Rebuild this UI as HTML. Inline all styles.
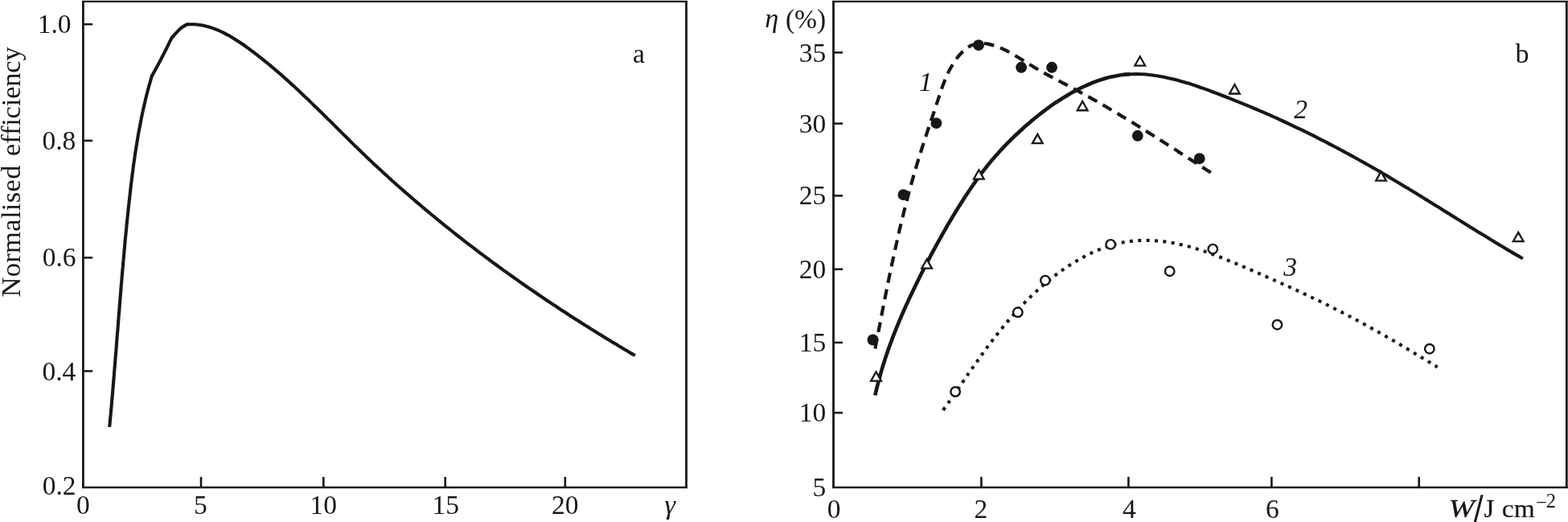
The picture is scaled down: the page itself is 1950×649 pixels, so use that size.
<!DOCTYPE html>
<html lang="en"><head><meta charset="utf-8"><title>Normalised efficiency plots</title>
<style>
html,body{margin:0;padding:0;background:#fff;}
body{width:1950px;height:649px;}
svg{display:block;}
text{font-family:"Liberation Serif","DejaVu Serif",serif;font-size:33.5px;fill:#171717;}
.i{font-style:italic;}
.ax{stroke:#171717;fill:none;}
.cv{stroke:#171717;fill:none;stroke-linejoin:round;stroke-linecap:butt;}
</style></head><body>
<svg width="1950" height="649" viewBox="0 0 1950 649">
<rect x="0" y="0" width="1950" height="649" fill="#ffffff"/>
<g id="plot-a">
<line class="ax" x1="102.0" y1="1.9" x2="854.9" y2="1.9" stroke-width="2.3"/>
<line class="ax" x1="102.0" y1="605.9" x2="854.9" y2="605.9" stroke-width="2.5"/>
<line class="ax" x1="103.4" y1="0.9" x2="103.4" y2="606.9" stroke-width="2.8"/>
<line class="ax" x1="853.5" y1="0.9" x2="853.5" y2="606.9" stroke-width="2.8"/>
<line class="ax" x1="103.4" y1="30.2" x2="115.2" y2="30.2" stroke-width="2.5"/>
<line class="ax" x1="103.4" y1="174.9" x2="115.2" y2="174.9" stroke-width="2.5"/>
<line class="ax" x1="103.4" y1="320.4" x2="115.2" y2="320.4" stroke-width="2.5"/>
<line class="ax" x1="103.4" y1="461.4" x2="115.2" y2="461.4" stroke-width="2.5"/>
<line class="ax" x1="250.0" y1="605.9" x2="250.0" y2="593.0" stroke-width="2.6"/>
<line class="ax" x1="402.3" y1="605.9" x2="402.3" y2="593.0" stroke-width="2.6"/>
<line class="ax" x1="553.7" y1="605.9" x2="553.7" y2="593.0" stroke-width="2.6"/>
<line class="ax" x1="702.8" y1="605.9" x2="702.8" y2="593.0" stroke-width="2.6"/>
<text x="88.6" y="41.0" text-anchor="end">1.0</text>
<text x="94.3" y="186.2" text-anchor="end">0.8</text>
<text x="94.6" y="331.2" text-anchor="end">0.6</text>
<text x="94.3" y="472.6" text-anchor="end">0.4</text>
<text x="94.6" y="615.2" text-anchor="end">0.2</text>
<text x="103.4" y="639.2" text-anchor="middle">0</text>
<text x="249.3" y="639.2" text-anchor="middle">5</text>
<text x="402.3" y="639.2" text-anchor="middle">10</text>
<text x="554.2" y="639.2" text-anchor="middle">15</text>
<text x="702.8" y="639.2" text-anchor="middle">20</text>
<text class="i" x="833.2" y="639.4" text-anchor="middle" style="font-size:34.3px">γ</text>
<text x="794.4" y="77.7" text-anchor="middle">a</text>
<text transform="translate(24.8 369.6) rotate(-90)" style="font-size:34.5px"><tspan x="0" textLength="164" lengthAdjust="spacing">Normalised</tspan> <tspan x="175.7" textLength="135.6" lengthAdjust="spacing">efficiency</tspan></text>
<path class="cv" stroke-width="4.1" d="M136.2,530.8 C136.3,529.5 136.7,525.5 136.9,522.9 C137.2,520.2 137.4,517.6 137.7,514.9 C137.9,512.3 138.1,509.6 138.4,507.0 C138.6,504.3 138.9,501.7 139.1,499.0 C139.3,496.4 139.6,493.7 139.8,491.1 C140.0,488.4 140.2,485.8 140.5,483.1 C140.7,480.4 140.9,477.8 141.1,475.1 C141.3,472.5 141.6,469.8 141.8,467.2 C142.0,464.5 142.2,461.9 142.4,459.2 C142.7,456.5 142.9,453.9 143.1,451.2 C143.3,448.6 143.5,445.9 143.7,443.2 C143.9,440.6 144.2,437.9 144.4,435.2 C144.6,432.6 144.8,429.9 145.0,427.3 C145.2,424.6 145.4,421.9 145.6,419.3 C145.8,416.6 146.0,413.9 146.3,411.3 C146.5,408.6 146.7,406.0 146.9,403.3 C147.1,400.6 147.3,398.0 147.5,395.3 C147.7,392.6 147.9,390.0 148.2,387.3 C148.4,384.6 148.6,382.0 148.8,379.3 C149.0,376.6 149.2,374.0 149.4,371.3 C149.7,368.7 149.9,366.0 150.1,363.3 C150.3,360.7 150.5,358.0 150.7,355.3 C151.0,352.7 151.2,350.0 151.4,347.3 C151.6,344.7 151.9,342.0 152.1,339.4 C152.3,336.7 152.5,334.0 152.8,331.4 C153.0,328.7 153.2,326.0 153.5,323.4 C153.7,320.7 153.9,318.1 154.2,315.4 C154.4,312.7 154.7,310.1 154.9,307.4 C155.1,304.8 155.4,302.1 155.6,299.5 C155.9,296.8 156.1,294.1 156.4,291.5 C156.7,288.8 156.9,286.2 157.2,283.5 C157.4,280.9 157.7,278.2 158.0,275.6 C158.2,272.9 158.5,270.3 158.8,267.6 C159.1,264.9 159.3,262.3 159.6,259.6 C159.9,257.0 160.2,254.4 160.5,251.7 C160.8,249.1 161.1,246.4 161.4,243.8 C161.7,241.1 162.0,238.5 162.3,235.8 C162.6,233.2 162.9,230.5 163.2,227.9 C163.5,225.3 163.8,222.6 164.2,220.0 C164.5,217.4 164.8,214.7 165.2,212.1 C165.5,209.4 165.9,206.8 166.2,204.2 C166.6,201.5 167.0,198.9 167.4,196.3 C167.7,193.7 168.1,191.0 168.5,188.4 C168.9,185.8 169.3,183.1 169.8,180.5 C170.2,177.9 170.6,175.3 171.1,172.7 C171.5,170.0 171.9,167.4 172.4,164.8 C172.9,162.2 173.4,159.6 173.9,157.0 C174.4,154.3 174.9,151.7 175.4,149.1 C175.9,146.5 176.4,143.9 177.0,141.3 C177.6,138.7 178.1,136.1 178.7,133.5 C179.3,130.9 179.9,128.3 180.5,125.7 C181.1,123.1 181.8,120.5 182.4,117.9 C183.1,115.3 183.7,112.7 184.4,110.1 C185.1,107.5 185.8,104.9 186.6,102.3 C187.3,99.8 188.4,95.9 188.8,94.6 C189.4,93.5 191.3,90.1 192.5,87.9 C193.8,85.6 195.0,83.4 196.2,81.2 C197.4,78.9 198.6,76.6 199.8,74.4 C201.0,72.1 202.1,69.9 203.3,67.6 C204.5,65.3 205.6,63.0 206.8,60.8 C208.0,58.5 209.1,56.2 210.2,53.9 C211.4,51.6 213.0,48.1 213.6,47.0 C214.6,46.0 217.3,42.8 219.3,40.7 C221.3,38.7 223.2,36.5 225.4,34.7 C227.6,33.0 231.4,31.0 232.6,30.3 C233.9,30.3 238.0,30.1 240.6,30.2 C243.2,30.3 245.8,30.6 248.4,31.0 C251.0,31.3 253.5,31.8 256.0,32.5 C258.5,33.1 261.0,33.8 263.4,34.6 C265.9,35.4 268.3,36.3 270.7,37.3 C273.1,38.3 275.5,39.4 277.8,40.6 C280.2,41.8 282.5,43.0 284.8,44.3 C287.1,45.6 289.4,47.0 291.6,48.4 C293.9,49.8 296.1,51.2 298.4,52.7 C300.6,54.2 302.8,55.8 305.0,57.3 C307.2,58.9 309.3,60.5 311.5,62.1 C313.7,63.7 315.8,65.3 317.9,66.9 C320.1,68.5 322.2,70.2 324.3,71.8 C326.4,73.5 328.5,75.2 330.5,76.9 C332.6,78.5 334.7,80.2 336.7,81.9 C338.7,83.6 340.8,85.4 342.8,87.1 C344.8,88.8 346.8,90.5 348.9,92.3 C350.9,94.0 352.8,95.8 354.8,97.6 C356.8,99.3 358.8,101.1 360.8,102.9 C362.7,104.7 364.7,106.5 366.6,108.3 C368.6,110.1 370.5,111.9 372.5,113.7 C374.4,115.5 376.3,117.3 378.2,119.2 C380.2,121.0 382.1,122.8 384.0,124.6 C385.9,126.5 387.8,128.3 389.7,130.2 C391.6,132.0 393.5,133.9 395.4,135.7 C397.3,137.6 399.2,139.4 401.1,141.3 C403.0,143.1 404.8,145.0 406.7,146.9 C408.6,148.7 410.5,150.6 412.4,152.4 C414.2,154.3 416.1,156.2 418.0,158.0 C419.9,159.9 421.8,161.8 423.6,163.6 C425.5,165.5 427.4,167.4 429.3,169.2 C431.2,171.1 433.1,172.9 434.9,174.8 C436.8,176.7 438.7,178.5 440.6,180.4 C442.5,182.2 444.4,184.1 446.3,185.9 C448.2,187.8 450.1,189.6 452.0,191.4 C453.9,193.3 455.8,195.1 457.8,196.9 C459.7,198.7 461.6,200.6 463.5,202.4 C465.5,204.2 467.4,206.0 469.3,207.8 C471.3,209.6 473.2,211.4 475.2,213.2 C477.1,215.0 479.1,216.8 481.0,218.5 C483.0,220.3 484.9,222.1 486.9,223.9 C488.9,225.7 490.9,227.4 492.8,229.2 C494.8,230.9 496.8,232.7 498.8,234.5 C500.8,236.2 502.8,238.0 504.8,239.7 C506.8,241.4 508.8,243.2 510.8,244.9 C512.8,246.6 514.8,248.4 516.8,250.1 C518.8,251.8 520.8,253.5 522.9,255.2 C524.9,257.0 526.9,258.7 528.9,260.4 C531.0,262.1 533.0,263.8 535.1,265.5 C537.1,267.2 539.1,268.8 541.2,270.5 C543.2,272.2 545.3,273.9 547.4,275.6 C549.4,277.2 551.5,278.9 553.5,280.6 C555.6,282.2 557.7,283.9 559.7,285.5 C561.8,287.2 563.9,288.8 566.0,290.5 C568.1,292.1 570.2,293.8 572.2,295.4 C574.3,297.0 576.4,298.7 578.5,300.3 C580.6,301.9 582.7,303.5 584.8,305.2 C586.9,306.8 589.0,308.4 591.2,310.0 C593.3,311.6 595.4,313.2 597.5,314.8 C599.6,316.4 601.8,318.0 603.9,319.6 C606.0,321.1 608.1,322.7 610.3,324.3 C612.4,325.9 614.6,327.5 616.7,329.0 C618.8,330.6 621.0,332.2 623.1,333.7 C625.3,335.3 627.4,336.8 629.6,338.4 C631.7,339.9 633.9,341.5 636.1,343.0 C638.2,344.5 640.4,346.1 642.6,347.6 C644.7,349.1 646.9,350.7 649.1,352.2 C651.3,353.7 653.4,355.2 655.6,356.7 C657.8,358.3 660.0,359.8 662.2,361.3 C664.4,362.8 666.6,364.3 668.8,365.8 C670.9,367.3 673.1,368.7 675.3,370.2 C677.5,371.7 679.7,373.2 682.0,374.7 C684.2,376.1 686.4,377.6 688.6,379.1 C690.8,380.5 693.0,382.0 695.2,383.5 C697.4,384.9 699.7,386.4 701.9,387.8 C704.1,389.3 706.3,390.7 708.6,392.2 C710.8,393.6 713.0,395.0 715.2,396.5 C717.5,397.9 719.7,399.3 722.0,400.7 C724.2,402.2 726.4,403.6 728.7,405.0 C730.9,406.4 733.2,407.8 735.4,409.2 C737.7,410.6 739.9,412.0 742.2,413.4 C744.4,414.8 746.7,416.2 748.9,417.6 C751.2,419.0 753.4,420.4 755.7,421.7 C758.0,423.1 760.2,424.5 762.5,425.9 C764.8,427.2 767.0,428.6 769.3,430.0 C771.6,431.3 773.8,432.7 776.1,434.0 C778.4,435.4 780.7,436.7 782.9,438.1 C785.2,439.4 788.7,441.4 789.8,442.1"/>
</g>
<g id="plot-b">
<line class="ax" x1="1035.1" y1="1.9" x2="1949.7" y2="1.9" stroke-width="2.3"/>
<line class="ax" x1="1035.1" y1="605.9" x2="1949.7" y2="605.9" stroke-width="2.5"/>
<line class="ax" x1="1036.5" y1="0.9" x2="1036.5" y2="606.9" stroke-width="2.8"/>
<line class="ax" x1="1948.3" y1="0.9" x2="1948.3" y2="606.9" stroke-width="2.8"/>
<line class="ax" x1="1036.5" y1="65.3" x2="1048.1" y2="65.3" stroke-width="2.5"/>
<line class="ax" x1="1036.5" y1="153.6" x2="1048.1" y2="153.6" stroke-width="2.5"/>
<line class="ax" x1="1036.5" y1="243.3" x2="1048.1" y2="243.3" stroke-width="2.5"/>
<line class="ax" x1="1036.5" y1="334.7" x2="1048.1" y2="334.7" stroke-width="2.5"/>
<line class="ax" x1="1036.5" y1="425.9" x2="1048.1" y2="425.9" stroke-width="2.5"/>
<line class="ax" x1="1036.5" y1="513.2" x2="1048.1" y2="513.2" stroke-width="2.5"/>
<line class="ax" x1="1220.4" y1="605.9" x2="1220.4" y2="592.9" stroke-width="2.6"/>
<line class="ax" x1="1403.4" y1="605.9" x2="1403.4" y2="592.9" stroke-width="2.6"/>
<line class="ax" x1="1581.4" y1="605.9" x2="1581.4" y2="592.9" stroke-width="2.6"/>
<line class="ax" x1="1764.7" y1="605.9" x2="1764.7" y2="592.9" stroke-width="2.6"/>
<text x="1027.3" y="77.0" text-anchor="end">35</text>
<text x="1027.3" y="164.6" text-anchor="end">30</text>
<text x="1027.3" y="254.4" text-anchor="end">25</text>
<text x="1027.3" y="345.8" text-anchor="end">20</text>
<text x="1027.3" y="437.0" text-anchor="end">15</text>
<text x="1027.3" y="524.3" text-anchor="end">10</text>
<text x="1027.3" y="616.8" text-anchor="end">5</text>
<text x="1037.0" y="644.0" text-anchor="middle">0</text>
<text x="1219.8" y="644.0" text-anchor="middle">2</text>
<text x="1404.3" y="644.0" text-anchor="middle">4</text>
<text x="1582.4" y="644.0" text-anchor="middle">6</text>
<text><tspan class="i" x="951.3" y="34.3" style="font-size:34.3px">η</tspan> <tspan x="1027.2" y="34.7" text-anchor="end">(%)</tspan></text>
<text style="font-size:32.5px"><tspan class="i" x="1801.6" y="643.2" textLength="32.2" lengthAdjust="spacingAndGlyphs" stroke="#171717" stroke-width="0.3">W</tspan><tspan x="1832.2" y="651.5" style="font-size:54px" textLength="11.71" lengthAdjust="spacingAndGlyphs" stroke="#171717" stroke-width="1.3">/</tspan><tspan x="1845.4" y="643.3" stroke="#171717" stroke-width="0.3">J </tspan><tspan x="1867.8" y="643.3" textLength="40.9" lengthAdjust="spacingAndGlyphs" stroke="#171717" stroke-width="0.2">cm</tspan><tspan x="1910.2" y="633.4" style="font-size:24.5px">−</tspan><tspan dx="-1.2" dy="-2.3" style="font-size:24.5px">2</tspan></text>
<text x="1893.1" y="77.8" text-anchor="middle" style="font-size:34.2px">b</text>
<text class="i" x="1151" y="112.6" text-anchor="middle">1</text>
<text class="i" x="1617.5" y="147.4" text-anchor="middle">2</text>
<text class="i" x="1604.5" y="343.3" text-anchor="middle">3</text>
<path class="cv" stroke-width="4.2" stroke-dasharray="12.6 8.25" d="M1505.8,214.6 C1504.7,213.9 1501.3,211.7 1499.1,210.3 C1496.9,208.8 1494.6,207.4 1492.4,206.0 C1490.2,204.5 1487.9,203.1 1485.7,201.6 C1483.5,200.2 1481.2,198.7 1479.0,197.3 C1476.8,195.8 1474.5,194.4 1472.3,192.9 C1470.0,191.5 1467.8,190.0 1465.5,188.6 C1463.3,187.1 1461.1,185.7 1458.8,184.2 C1456.6,182.8 1454.3,181.3 1452.1,179.9 C1449.8,178.5 1447.6,177.0 1445.3,175.6 C1443.1,174.2 1440.8,172.7 1438.6,171.3 C1436.3,169.9 1434.1,168.4 1431.8,167.0 C1429.5,165.6 1427.3,164.2 1425.0,162.7 C1422.8,161.3 1420.5,159.9 1418.2,158.5 C1416.0,157.1 1413.7,155.7 1411.4,154.3 C1409.2,152.9 1406.9,151.5 1404.6,150.1 C1402.4,148.7 1400.1,147.4 1397.8,146.0 C1395.5,144.6 1393.2,143.2 1391.0,141.9 C1388.7,140.5 1386.4,139.2 1384.1,137.8 C1381.8,136.5 1379.5,135.1 1377.3,133.8 C1375.0,132.4 1372.7,131.1 1370.4,129.8 C1368.1,128.5 1365.8,127.1 1363.5,125.8 C1361.2,124.5 1358.9,123.2 1356.6,121.9 C1354.3,120.6 1351.9,119.3 1349.6,118.1 C1347.3,116.8 1345.0,115.5 1342.7,114.3 C1340.4,113.0 1338.0,111.7 1335.7,110.5 C1333.4,109.3 1331.1,108.0 1328.7,106.8 C1326.4,105.6 1324.0,104.3 1321.7,103.1 C1319.4,101.9 1317.0,100.6 1314.7,99.4 C1312.3,98.2 1310.0,96.9 1307.6,95.6 C1305.3,94.4 1302.9,93.1 1300.5,91.8 C1298.2,90.5 1295.8,89.2 1293.4,87.8 C1291.1,86.5 1288.7,85.1 1286.3,83.7 C1284.0,82.2 1281.6,80.8 1279.2,79.3 C1276.8,77.9 1274.4,76.3 1272.0,74.9 C1269.6,73.4 1267.2,71.9 1264.8,70.5 C1262.4,69.0 1260.0,67.6 1257.6,66.3 C1255.2,64.9 1252.8,63.6 1250.4,62.4 C1248.0,61.2 1245.6,60.1 1243.2,59.1 C1240.7,58.1 1238.3,57.2 1235.9,56.5 C1233.5,55.7 1231.0,55.1 1228.6,54.6 C1226.2,54.2 1223.7,53.9 1221.4,53.9 C1219.0,53.8 1216.6,54.0 1214.3,54.5 C1212.0,54.9 1209.7,55.7 1207.5,56.7 C1205.4,57.8 1203.3,59.1 1201.2,60.7 C1199.2,62.2 1197.3,64.1 1195.4,66.0 C1193.6,67.9 1191.8,70.1 1190.1,72.3 C1188.4,74.5 1186.8,76.9 1185.3,79.3 C1183.8,81.7 1182.4,84.2 1181.1,86.6 C1179.8,89.1 1178.6,91.6 1177.5,94.0 C1176.4,96.5 1175.4,99.0 1174.4,101.5 C1173.4,104.0 1172.5,106.4 1171.6,108.9 C1170.7,111.4 1169.9,113.9 1169.1,116.4 C1168.2,118.9 1167.4,121.4 1166.6,123.9 C1165.8,126.4 1164.9,128.9 1164.1,131.4 C1163.3,133.9 1162.4,136.4 1161.6,139.0 C1160.7,141.5 1159.9,144.0 1159.1,146.5 C1158.2,149.0 1157.4,151.6 1156.5,154.1 C1155.7,156.6 1154.8,159.1 1154.0,161.7 C1153.2,164.2 1152.3,166.7 1151.5,169.3 C1150.6,171.8 1149.8,174.4 1149.0,176.9 C1148.2,179.4 1147.3,182.0 1146.5,184.5 C1145.7,187.1 1144.9,189.6 1144.1,192.2 C1143.3,194.7 1142.5,197.3 1141.7,199.9 C1140.9,202.4 1140.2,205.0 1139.4,207.5 C1138.6,210.1 1137.9,212.6 1137.1,215.2 C1136.4,217.8 1135.6,220.3 1134.9,222.9 C1134.2,225.5 1133.5,228.0 1132.8,230.6 C1132.0,233.2 1131.3,235.8 1130.6,238.3 C1130.0,240.9 1129.3,243.5 1128.6,246.1 C1127.9,248.6 1127.2,251.2 1126.6,253.8 C1125.9,256.4 1125.3,259.0 1124.6,261.5 C1124.0,264.1 1123.3,266.7 1122.7,269.3 C1122.0,271.9 1121.4,274.5 1120.8,277.1 C1120.2,279.6 1119.6,282.2 1118.9,284.8 C1118.3,287.4 1117.7,290.0 1117.1,292.6 C1116.5,295.2 1115.9,297.8 1115.4,300.4 C1114.8,303.0 1114.2,305.6 1113.6,308.2 C1113.0,310.8 1112.5,313.4 1111.9,316.0 C1111.3,318.6 1110.8,321.2 1110.2,323.8 C1109.6,326.4 1109.1,329.0 1108.5,331.6 C1108.0,334.2 1107.4,336.8 1106.9,339.4 C1106.4,342.0 1105.8,344.6 1105.3,347.3 C1104.8,349.9 1104.2,352.5 1103.7,355.1 C1103.2,357.7 1102.6,360.3 1102.1,362.9 C1101.6,365.5 1101.1,368.1 1100.5,370.8 C1100.0,373.4 1099.5,376.0 1099.0,378.6 C1098.5,381.2 1098.0,383.8 1097.4,386.4 C1096.9,389.1 1096.4,391.7 1095.9,394.3 C1095.4,396.9 1094.9,399.5 1094.4,402.2 C1093.9,404.8 1093.4,407.4 1092.9,410.0 C1092.4,412.6 1091.9,415.3 1091.3,417.9 C1090.8,420.5 1090.3,423.1 1089.8,425.7 C1089.3,428.4 1088.6,432.3 1088.3,433.6"/>
<path class="cv" stroke-width="4.6" d="M1088.3,491.6 C1088.6,490.3 1089.5,486.3 1090.1,483.7 C1090.8,481.1 1091.4,478.5 1092.1,475.9 C1092.8,473.3 1093.5,470.7 1094.2,468.1 C1094.9,465.6 1095.6,463.0 1096.4,460.4 C1097.1,457.9 1097.9,455.3 1098.7,452.8 C1099.5,450.2 1100.3,447.7 1101.1,445.1 C1102.0,442.6 1102.8,440.1 1103.7,437.6 C1104.6,435.1 1105.4,432.6 1106.3,430.1 C1107.2,427.6 1108.2,425.1 1109.1,422.6 C1110.0,420.1 1111.0,417.6 1111.9,415.1 C1112.9,412.7 1113.9,410.2 1114.9,407.7 C1115.9,405.3 1116.9,402.8 1117.9,400.3 C1118.9,397.9 1120.0,395.4 1121.0,393.0 C1122.1,390.6 1123.2,388.1 1124.2,385.7 C1125.3,383.3 1126.4,380.8 1127.5,378.4 C1128.6,376.0 1129.7,373.6 1130.8,371.1 C1132.0,368.7 1133.1,366.3 1134.3,363.9 C1135.4,361.5 1136.6,359.1 1137.7,356.7 C1138.9,354.3 1140.1,351.9 1141.3,349.5 C1142.4,347.1 1143.6,344.7 1144.8,342.3 C1146.0,339.9 1147.2,337.5 1148.5,335.1 C1149.7,332.8 1150.9,330.4 1152.1,328.0 C1153.4,325.6 1154.6,323.2 1155.9,320.8 C1157.1,318.5 1158.4,316.1 1159.7,313.7 C1160.9,311.4 1162.2,309.0 1163.5,306.6 C1164.8,304.3 1166.1,301.9 1167.4,299.6 C1168.7,297.2 1170.0,294.9 1171.3,292.6 C1172.6,290.2 1173.9,287.9 1175.3,285.6 C1176.6,283.2 1178.0,280.9 1179.3,278.6 C1180.7,276.3 1182.0,274.0 1183.4,271.7 C1184.8,269.4 1186.2,267.1 1187.5,264.9 C1188.9,262.6 1190.3,260.3 1191.7,258.1 C1193.2,255.8 1194.6,253.6 1196.0,251.3 C1197.4,249.1 1198.9,246.8 1200.3,244.6 C1201.7,242.4 1203.2,240.2 1204.7,238.0 C1206.1,235.8 1207.6,233.6 1209.1,231.5 C1210.6,229.3 1212.1,227.1 1213.7,225.0 C1215.2,222.8 1216.8,220.7 1218.3,218.6 C1219.9,216.4 1221.5,214.3 1223.1,212.2 C1224.7,210.1 1226.4,208.1 1228.0,206.0 C1229.7,203.9 1231.4,201.9 1233.1,199.8 C1234.8,197.8 1236.6,195.8 1238.3,193.8 C1240.1,191.8 1241.9,189.8 1243.7,187.8 C1245.5,185.8 1247.3,183.9 1249.2,181.9 C1251.0,180.0 1252.9,178.1 1254.8,176.2 C1256.7,174.3 1258.6,172.4 1260.5,170.5 C1262.5,168.6 1264.4,166.8 1266.4,165.0 C1268.3,163.1 1270.3,161.3 1272.3,159.5 C1274.3,157.7 1276.3,156.0 1278.3,154.2 C1280.3,152.5 1282.4,150.8 1284.4,149.1 C1286.5,147.4 1288.5,145.7 1290.6,144.0 C1292.7,142.4 1294.8,140.7 1296.9,139.1 C1299.0,137.5 1301.2,135.9 1303.3,134.4 C1305.5,132.8 1307.6,131.2 1309.8,129.7 C1312.0,128.2 1314.2,126.7 1316.5,125.3 C1318.7,123.8 1321.0,122.4 1323.3,121.0 C1325.6,119.6 1327.9,118.2 1330.2,116.8 C1332.6,115.5 1334.9,114.2 1337.3,112.9 C1339.7,111.7 1342.1,110.4 1344.5,109.2 C1346.9,108.1 1349.4,106.9 1351.8,105.8 C1354.3,104.7 1356.8,103.7 1359.2,102.7 C1361.7,101.7 1364.2,100.8 1366.8,99.9 C1369.3,99.1 1371.8,98.3 1374.4,97.5 C1376.9,96.8 1379.5,96.1 1382.0,95.5 C1384.6,94.9 1387.2,94.4 1389.8,93.9 C1392.3,93.5 1394.9,93.1 1397.5,92.8 C1400.2,92.5 1404.1,92.3 1405.4,92.2"/>
<path class="cv" stroke-width="4.15" d="M1397.5,92.8 C1398.9,92.7 1402.8,92.3 1405.4,92.2 C1408.0,92.1 1410.6,92.0 1413.2,92.0 C1415.9,92.1 1418.5,92.2 1421.1,92.3 C1423.8,92.5 1426.4,92.7 1429.0,93.0 C1431.7,93.3 1434.3,93.6 1436.9,94.0 C1439.6,94.4 1442.2,94.9 1444.8,95.3 C1447.5,95.8 1450.1,96.4 1452.7,97.0 C1455.3,97.5 1458.0,98.2 1460.6,98.8 C1463.2,99.5 1465.8,100.2 1468.4,100.9 C1471.0,101.6 1473.6,102.4 1476.2,103.1 C1478.8,103.9 1481.3,104.7 1483.9,105.6 C1486.5,106.4 1489.1,107.3 1491.6,108.2 C1494.2,109.0 1496.7,110.0 1499.3,110.9 C1501.8,111.8 1504.3,112.7 1506.8,113.7 C1509.4,114.6 1511.9,115.6 1514.4,116.5 C1516.9,117.5 1519.4,118.5 1521.9,119.5 C1524.4,120.5 1526.9,121.4 1529.4,122.4 C1531.9,123.4 1534.4,124.4 1536.8,125.4 C1539.3,126.4 1541.8,127.4 1544.3,128.4 C1546.7,129.4 1549.2,130.4 1551.6,131.4 C1554.1,132.4 1556.6,133.4 1559.0,134.5 C1561.5,135.5 1563.9,136.5 1566.3,137.6 C1568.8,138.6 1571.2,139.7 1573.6,140.7 C1576.1,141.8 1578.5,142.9 1580.9,143.9 C1583.4,145.0 1585.8,146.1 1588.2,147.2 C1590.6,148.3 1593.0,149.4 1595.4,150.5 C1597.8,151.6 1600.2,152.7 1602.6,153.9 C1605.0,155.0 1607.4,156.1 1609.8,157.3 C1612.2,158.4 1614.6,159.5 1617.0,160.7 C1619.4,161.9 1621.8,163.0 1624.2,164.2 C1626.6,165.4 1628.9,166.5 1631.3,167.7 C1633.7,168.9 1636.1,170.1 1638.4,171.3 C1640.8,172.5 1643.2,173.7 1645.5,174.9 C1647.9,176.1 1650.3,177.4 1652.6,178.6 C1655.0,179.8 1657.3,181.0 1659.7,182.3 C1662.0,183.5 1664.4,184.8 1666.7,186.0 C1669.1,187.3 1671.4,188.5 1673.8,189.8 C1676.1,191.1 1678.4,192.3 1680.8,193.6 C1683.1,194.9 1685.5,196.2 1687.8,197.5 C1690.1,198.8 1692.4,200.1 1694.8,201.4 C1697.1,202.7 1699.4,204.0 1701.7,205.3 C1704.1,206.6 1706.4,208.0 1708.7,209.3 C1711.0,210.6 1713.3,211.9 1715.7,213.3 C1718.0,214.6 1720.3,216.0 1722.6,217.3 C1724.9,218.7 1727.2,220.0 1729.5,221.4 C1731.8,222.8 1734.1,224.1 1736.4,225.5 C1738.7,226.9 1741.0,228.3 1743.4,229.7 C1745.7,231.0 1747.9,232.4 1750.2,233.8 C1752.5,235.2 1754.8,236.6 1757.1,238.0 C1759.4,239.4 1761.7,240.8 1764.0,242.2 C1766.3,243.6 1768.6,245.0 1770.9,246.4 C1773.2,247.9 1775.5,249.3 1777.7,250.7 C1780.0,252.1 1782.3,253.5 1784.6,254.9 C1786.9,256.3 1789.2,257.8 1791.5,259.2 C1793.7,260.6 1796.0,262.0 1798.3,263.4 C1800.6,264.9 1802.9,266.3 1805.1,267.7 C1807.4,269.1 1809.7,270.5 1812.0,272.0 C1814.3,273.4 1816.5,274.8 1818.8,276.2 C1821.1,277.6 1823.4,279.0 1825.6,280.5 C1827.9,281.9 1830.2,283.3 1832.5,284.7 C1834.7,286.1 1837.0,287.5 1839.3,288.9 C1841.6,290.3 1843.8,291.7 1846.1,293.1 C1848.4,294.5 1850.7,295.9 1852.9,297.3 C1855.2,298.6 1857.5,300.0 1859.8,301.4 C1862.0,302.8 1864.3,304.1 1866.6,305.5 C1868.9,306.9 1871.1,308.2 1873.4,309.6 C1875.7,310.9 1878.0,312.3 1880.2,313.6 C1882.5,315.0 1884.8,316.3 1887.1,317.6 C1889.3,319.0 1892.8,320.9 1893.9,321.6"/>
<path class="cv" stroke-width="4.05" stroke-dasharray="4.05 6.33" stroke-dashoffset="-0.8" d="M1172.5,510.5 C1173.3,509.4 1175.6,506.2 1177.1,504.0 C1178.7,501.8 1180.2,499.7 1181.7,497.5 C1183.2,495.3 1184.7,493.1 1186.3,490.9 C1187.8,488.8 1189.3,486.6 1190.8,484.4 C1192.3,482.2 1193.8,480.0 1195.3,477.8 C1196.8,475.7 1198.3,473.5 1199.8,471.3 C1201.3,469.1 1202.8,466.9 1204.3,464.7 C1205.9,462.6 1207.4,460.4 1208.9,458.2 C1210.4,456.0 1211.9,453.9 1213.5,451.7 C1215.0,449.5 1216.5,447.4 1218.1,445.2 C1219.6,443.1 1221.1,440.9 1222.7,438.8 C1224.3,436.6 1225.8,434.5 1227.4,432.3 C1229.0,430.2 1230.6,428.1 1232.1,426.0 C1233.7,423.9 1235.4,421.7 1237.0,419.6 C1238.6,417.6 1240.2,415.5 1241.9,413.4 C1243.5,411.3 1245.2,409.2 1246.9,407.2 C1248.5,405.1 1250.2,403.1 1251.9,401.0 C1253.7,399.0 1255.4,397.0 1257.1,395.0 C1258.9,393.0 1260.6,391.0 1262.4,389.0 C1264.2,387.0 1266.0,385.1 1267.8,383.1 C1269.6,381.2 1271.4,379.2 1273.3,377.3 C1275.1,375.4 1277.0,373.5 1278.9,371.6 C1280.8,369.7 1282.7,367.9 1284.7,366.0 C1286.6,364.2 1288.6,362.4 1290.5,360.6 C1292.5,358.8 1294.5,357.0 1296.6,355.2 C1298.6,353.4 1300.7,351.7 1302.7,350.0 C1304.8,348.3 1306.9,346.6 1309.1,344.9 C1311.2,343.2 1313.4,341.6 1315.5,339.9 C1317.7,338.3 1319.9,336.7 1322.1,335.2 C1324.4,333.6 1326.6,332.1 1328.9,330.6 C1331.1,329.1 1333.4,327.7 1335.7,326.3 C1338.0,324.9 1340.3,323.5 1342.7,322.2 C1345.0,320.8 1347.4,319.6 1349.8,318.3 C1352.1,317.1 1354.5,315.9 1356.9,314.8 C1359.3,313.6 1361.7,312.6 1364.2,311.5 C1366.6,310.5 1369.1,309.5 1371.5,308.6 C1374.0,307.7 1376.5,306.8 1378.9,306.0 C1381.4,305.2 1383.9,304.5 1386.4,303.8 C1388.9,303.2 1391.4,302.6 1394.0,302.0 C1396.5,301.5 1399.0,301.0 1401.6,300.6 C1404.1,300.2 1406.7,299.9 1409.2,299.6 C1411.8,299.4 1414.3,299.2 1416.9,299.0 C1419.5,298.9 1422.0,298.8 1424.6,298.8 C1427.2,298.8 1429.8,298.9 1432.3,299.0 C1434.9,299.1 1437.5,299.3 1440.1,299.5 C1442.7,299.7 1445.3,300.0 1447.8,300.3 C1450.4,300.7 1453.0,301.1 1455.6,301.5 C1458.2,301.9 1460.8,302.4 1463.4,302.9 C1465.9,303.5 1468.5,304.0 1471.1,304.7 C1473.7,305.3 1476.2,305.9 1478.8,306.6 C1481.4,307.3 1483.9,308.1 1486.5,308.8 C1489.1,309.6 1491.6,310.4 1494.2,311.3 C1496.7,312.1 1499.2,313.0 1501.8,313.9 C1504.3,314.8 1506.9,315.7 1509.4,316.6 C1511.9,317.6 1514.4,318.6 1517.0,319.5 C1519.5,320.5 1522.0,321.5 1524.5,322.5 C1527.0,323.5 1529.5,324.6 1532.0,325.6 C1534.5,326.6 1537.0,327.7 1539.5,328.7 C1542.0,329.8 1544.5,330.8 1547.0,331.9 C1549.5,333.0 1551.9,334.0 1554.4,335.1 C1556.9,336.2 1559.4,337.2 1561.8,338.3 C1564.3,339.4 1566.8,340.5 1569.2,341.5 C1571.7,342.6 1574.1,343.7 1576.6,344.8 C1579.0,345.9 1581.5,346.9 1583.9,348.0 C1586.3,349.1 1588.8,350.2 1591.2,351.3 C1593.7,352.4 1596.1,353.4 1598.5,354.5 C1600.9,355.6 1603.4,356.7 1605.8,357.8 C1608.2,358.9 1610.6,360.0 1613.0,361.1 C1615.4,362.2 1617.8,363.4 1620.2,364.5 C1622.6,365.6 1625.0,366.7 1627.4,367.9 C1629.8,369.0 1632.2,370.1 1634.6,371.3 C1637.0,372.4 1639.4,373.6 1641.8,374.7 C1644.1,375.9 1646.5,377.1 1648.9,378.2 C1651.3,379.4 1653.6,380.6 1656.0,381.8 C1658.4,383.0 1660.7,384.2 1663.1,385.4 C1665.5,386.6 1667.8,387.8 1670.2,389.0 C1672.5,390.2 1674.9,391.5 1677.2,392.7 C1679.6,393.9 1681.9,395.2 1684.2,396.4 C1686.6,397.7 1688.9,398.9 1691.3,400.2 C1693.6,401.5 1695.9,402.7 1698.3,404.0 C1700.6,405.3 1702.9,406.6 1705.2,407.9 C1707.6,409.2 1709.9,410.5 1712.2,411.8 C1714.5,413.1 1716.8,414.4 1719.1,415.7 C1721.4,417.0 1723.8,418.3 1726.1,419.6 C1728.4,420.9 1730.7,422.3 1733.0,423.6 C1735.3,424.9 1737.6,426.3 1739.9,427.6 C1742.2,429.0 1744.4,430.3 1746.7,431.7 C1749.0,433.0 1751.3,434.4 1753.6,435.8 C1755.9,437.1 1758.2,438.5 1760.4,439.9 C1762.7,441.2 1765.0,442.6 1767.3,444.0 C1769.5,445.4 1771.8,446.8 1774.1,448.1 C1776.4,449.5 1778.6,450.9 1780.9,452.3 C1783.2,453.7 1786.6,455.8 1787.7,456.5"/>
<circle cx="1085.5" cy="422.5" r="6.95" fill="#171717"/>
<circle cx="1123.4" cy="242.1" r="6.95" fill="#171717"/>
<circle cx="1164.4" cy="153.1" r="6.95" fill="#171717"/>
<circle cx="1217" cy="56.1" r="6.95" fill="#171717"/>
<circle cx="1270.1" cy="83.8" r="6.95" fill="#171717"/>
<circle cx="1308.1" cy="83.8" r="6.95" fill="#171717"/>
<circle cx="1414.8" cy="168.8" r="6.95" fill="#171717"/>
<circle cx="1491.7" cy="197.2" r="6.95" fill="#171717"/>
<circle cx="1188.1" cy="487.0" r="5.75" fill="#fff" stroke="#171717" stroke-width="2.4"/>
<circle cx="1265.8" cy="388.3" r="5.75" fill="#fff" stroke="#171717" stroke-width="2.4"/>
<circle cx="1299.9" cy="348.6" r="5.75" fill="#fff" stroke="#171717" stroke-width="2.4"/>
<circle cx="1381.2" cy="303.9" r="5.75" fill="#fff" stroke="#171717" stroke-width="2.4"/>
<circle cx="1454.7" cy="337.2" r="5.75" fill="#fff" stroke="#171717" stroke-width="2.4"/>
<circle cx="1508.3" cy="309.6" r="5.75" fill="#fff" stroke="#171717" stroke-width="2.4"/>
<circle cx="1588.4" cy="403.7" r="5.75" fill="#fff" stroke="#171717" stroke-width="2.4"/>
<circle cx="1777.8" cy="433.7" r="5.75" fill="#fff" stroke="#171717" stroke-width="2.4"/>
<path d="M1089.5,462.29 L1095.88,473.60 L1083.12,473.60 Z" fill="#fff" stroke="#171717" stroke-width="2.3" stroke-linejoin="miter"/>
<path d="M1152.6,322.34 L1158.98,333.65 L1146.22,333.65 Z" fill="#fff" stroke="#171717" stroke-width="2.3" stroke-linejoin="miter"/>
<path d="M1217.3,211.29 L1223.68,222.60 L1210.92,222.60 Z" fill="#fff" stroke="#171717" stroke-width="2.3" stroke-linejoin="miter"/>
<path d="M1290.3,166.89 L1296.68,178.20 L1283.92,178.20 Z" fill="#fff" stroke="#171717" stroke-width="2.3" stroke-linejoin="miter"/>
<path d="M1346.2,125.94 L1352.58,137.25 L1339.82,137.25 Z" fill="#fff" stroke="#171717" stroke-width="2.3" stroke-linejoin="miter"/>
<path d="M1417.7,70.24 L1424.08,81.55 L1411.32,81.55 Z" fill="#fff" stroke="#171717" stroke-width="2.3" stroke-linejoin="miter"/>
<path d="M1535.4,105.19 L1541.78,116.50 L1529.02,116.50 Z" fill="#fff" stroke="#171717" stroke-width="2.3" stroke-linejoin="miter"/>
<path d="M1717.5,213.34 L1723.88,224.65 L1711.12,224.65 Z" fill="#fff" stroke="#171717" stroke-width="2.3" stroke-linejoin="miter"/>
<path d="M1888.2,288.89 L1894.58,300.20 L1881.82,300.20 Z" fill="#fff" stroke="#171717" stroke-width="2.3" stroke-linejoin="miter"/>
</g>
</svg></body></html>
